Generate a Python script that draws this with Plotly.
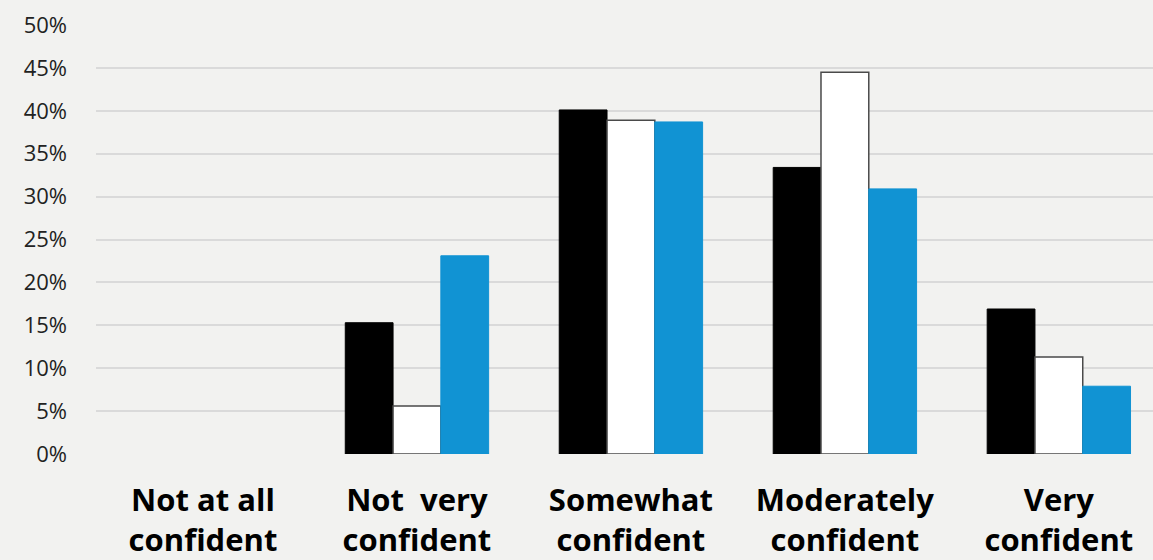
import plotly.graph_objects as go

categories = ["Not at all<br>confident", "Not  very<br>confident", "Somewhat<br>confident",
              "Moderately<br>confident", "Very<br>confident"]
series_black = [0.0, 15.3, 40.1, 33.4, 16.9]
series_white = [0.0, 5.6, 38.9, 44.5, 11.3]
series_blue = [0.0, 23.1, 38.7, 30.9, 7.9]
y_ticks = [0, 5, 10, 15, 20, 25, 30, 35, 40, 45, 50]
y_tick_labels = [f"{t}%" for t in y_ticks]

bg = "#f2f2f0"


def outline_widths(values, w):
    # no outline on empty bars, so a zero value leaves no stray line
    return [w if v > 0 else 0 for v in values]


fig = go.Figure()
fig.add_bar(x=categories, y=series_black,
            marker=dict(color="#000000", line=dict(color="#000000", width=outline_widths(series_black, 1))),
            name="Series 1")
fig.add_bar(x=categories, y=series_white,
            marker=dict(color="#ffffff", line=dict(color="#4a4a4a", width=outline_widths(series_white, 1.5))),
            name="Series 2")
fig.add_bar(x=categories, y=series_blue,
            marker=dict(color="#1193d3", line=dict(color="#1193d3", width=outline_widths(series_blue, 1))),
            name="Series 3")

fig.update_layout(
    width=1153, height=560,
    margin=dict(l=96, r=0, t=25, b=106),
    paper_bgcolor=bg, plot_bgcolor=bg,
    barmode="group", bargap=0.33, bargroupgap=0,
    showlegend=False,
    font=dict(family="Open Sans", color="#1a1a1a"),
)
fig.update_xaxes(
    type="category", range=[-0.5, 4.44],
    tickfont=dict(family="Open Sans", size=31, color="#000000", weight="bold"),
    ticklabelstandoff=25,
    showgrid=False, zeroline=False, showline=False, ticks="",
)
fig.update_yaxes(
    range=[0, 50], tickvals=y_ticks, ticktext=y_tick_labels,
    tickfont=dict(family="Open Sans", size=22, color="#222222"),
    showgrid=True, gridcolor="#dadada", gridwidth=2,
    zeroline=False, showline=False, ticks="",
    ticklabelstandoff=28,
)

fig.write_html("out.html")
